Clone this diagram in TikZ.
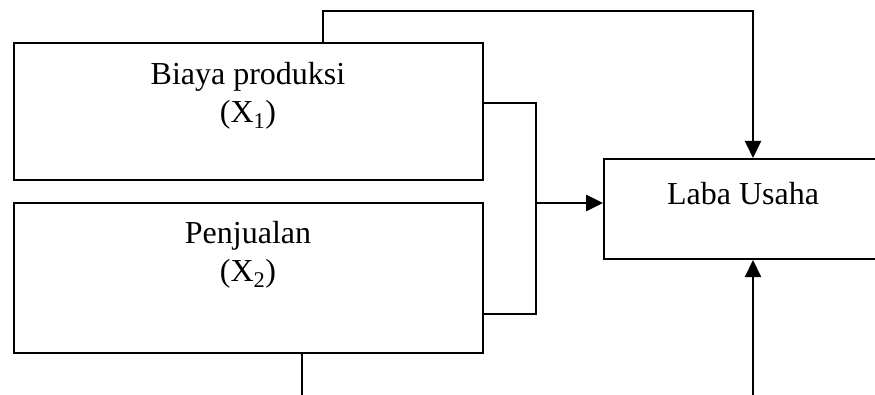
\documentclass[tikz,border=0pt]{standalone}
\usepackage{fontspec}
\setmainfont{Liberation Serif}
\usetikzlibrary{arrows.meta,calc}
\begin{document}
\begin{tikzpicture}[x=1pt,y=1pt,
  box/.style={draw,line width=2pt,rectangle,inner sep=0pt},
  lbl/.style={font=\fontsize{32}{38}\selectfont,align=center,inner sep=0pt},
  conn/.style={line width=2pt},
  arr/.style={line width=2pt,-{Triangle[length=17pt,width=16pt]}}]
\useasboundingbox (0,0) rectangle (875,394);
\begin{scope}
\clip (0,0) rectangle (875,394);
\node[box,minimum width=469pt,minimum height=137pt] (b1) at (248.5,282.5) {};
\node[box,minimum width=469pt,minimum height=150pt] (b2) at (248.5,116) {};
\node[box,minimum width=298pt,minimum height=100pt] (laba) at (753,185) {};
\node[lbl] (t1) at (248,298) {Biaya produksi\\(X\textsubscript{1})};
\node[lbl] (t2) at (248,139) {Penjualan\\(X\textsubscript{2})};
\node[lbl,anchor=center] (t3) at (743,200) {Laba Usaha};
\coordinate (top) at ([xshift=310pt]b1.north west);
\draw[arr] (top) -- ++(0,31) -| (laba.north);
\coordinate (r1) at ([yshift=-61pt]b1.north east);
\coordinate (r2) at ([yshift=40pt]b2.south east);
\draw[conn] (r1) -- ++(52,0) coordinate (k1) -- (k1 |- r2) -- (r2);
\coordinate (m) at (k1 |- 0,191);
\draw[arr,line width=2.6pt] (m) -- (laba.west |- m);
\coordinate (bl) at ([xshift=289pt]b2.south west);
\draw[conn] (bl) -- (bl |- 0,-5);
\coordinate (br) at (laba.south |- 0,-5);
\draw[arr] (br) -- (laba.south);
\end{scope}
\end{tikzpicture}
\end{document}
